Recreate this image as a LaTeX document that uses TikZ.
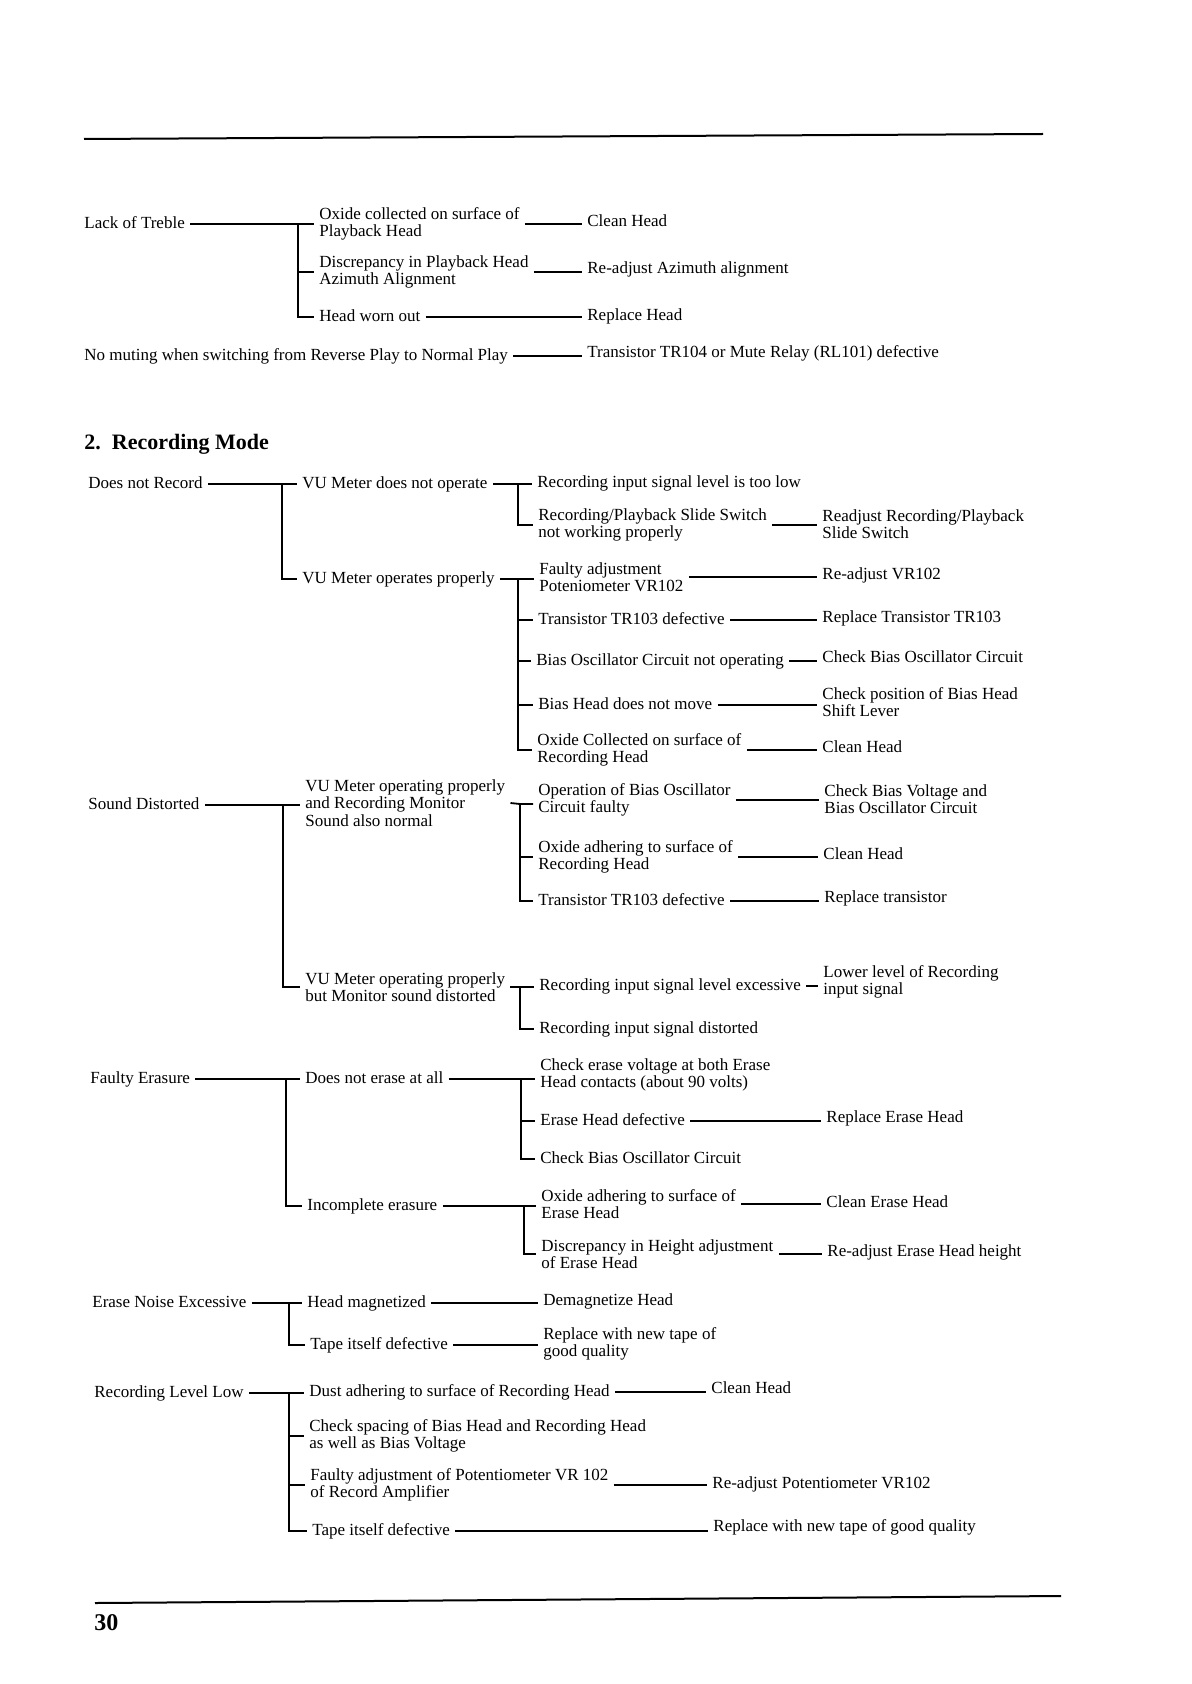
\documentclass[tikz,border=0pt]{standalone}
\usepackage{fontspec}
\setmainfont{Liberation Serif}
\usepackage{tikz}

\begin{document}
\begin{tikzpicture}[x=0.5pt,y=-0.5pt]
	\tikzset{
		txt/.style={anchor=west,inner xsep=2.5pt,inner ysep=1pt,
			font=\fontsize{8.5}{8.6}\selectfont,text height=5.8pt,text depth=1.7pt},
		blk/.style={anchor=west,inner xsep=2.5pt,inner ysep=1pt,
			font=\fontsize{8.5}{8.6}\selectfont,align=left},
		wire/.style={line width=0.9pt}}
	\useasboundingbox (0,-3) rectangle (1191,1681);
	\draw[line width=1pt](84,136)--(1043,131);
	% Lack of Treble
	\node[txt](lt) at (79,221){Lack of Treble};
	\coordinate(j1) at (298,221);
	\node[blk](lt1) at (314,221){Oxide collected on surface of\\Playback Head};
	\node[blk](lt2) at (314,269){Discrepancy in Playback Head\\Azimuth Alignment};
	\node[txt](lt3) at (314,314){Head worn out};
	\node[txt](lt1r) at (582,219){Clean Head};
	\node[txt](lt2r) at (582,266){Re-adjust Azimuth alignment};
	\node[txt](lt3r) at (582,313){Replace Head};
	\draw[wire](lt.east)--(j1)--(j1 -| lt1.west);
	\draw[wire](j1)|-(lt2.west);
	\draw[wire](j1)|-(lt3.west);
	\draw[wire](lt1.east)--(lt1.east -| lt1r.west);
	\draw[wire](lt2.east)--(lt2.east -| lt2r.west);
	\draw[wire](lt3.east)--(lt3.east -| lt3r.west);
	\node[txt](nm) at (79,353){No muting when switching from Reverse Play to Normal Play};
	\node[txt](nmr) at (582,350){Transistor TR104 or Mute Relay (RL101) defective};
	\draw[wire](nm.east)--(nm.east -| nmr.west);
	% 2. Recording Mode
	\node[anchor=west,inner sep=0pt,font=\fontsize{11}{12}\selectfont\bfseries](hd) at (84,441){2.\enspace Recording Mode};
	% Does not Record
	\node[txt](dr) at (83,481){Does not Record};
	\coordinate(j2) at (282,481);
	\node[txt](dr1) at (297,481){VU Meter does not operate};
	\node[txt](dr2) at (297,576){VU Meter operates properly};
	\draw[wire](dr.east)--(j2)--(j2 -| dr1.west);
	\draw[wire](j2)|-(dr2.west);
	\coordinate(j3) at (518,481);
	\node[txt](dr1a) at (532,480){Recording input signal level is too low};
	\node[blk](dr1b) at (533,522){Recording/Playback Slide Switch\\not working properly};
	\node[blk](dr1br) at (817,521){Readjust Recording/Playback\\Slide Switch};
	\draw[wire](dr1.east)--(j3)--(j3 -| dr1a.west);
	\draw[wire](j3)|-(dr1b.west);
	\draw[wire](dr1b.east)--(dr1b.east -| dr1br.west);
	\coordinate(j4) at (518,576);
	\node[blk](dr2a) at (534,574){Faulty adjustment\\Poteniometer VR102};
	\node[txt](dr2b) at (533,617){Transistor TR103 defective};
	\node[txt](dr2c) at (531,658){Bias Oscillator Circuit not operating};
	\node[txt](dr2d) at (533,702){Bias Head does not move};
	\node[blk](dr2e) at (532,747){Oxide Collected on surface of\\Recording Head};
	\node[txt](dr2ar) at (817,572){Re-adjust VR102};
	\node[txt](dr2br) at (817,615){Replace Transistor TR103};
	\node[txt](dr2cr) at (817,655){Check Bias Oscillator Circuit};
	\node[blk](dr2dr) at (817,699){Check position of Bias Head\\Shift Lever};
	\node[txt](dr2er) at (817,745){Clean Head};
	\draw[wire](dr2.east)--(j4)--(j4 -| dr2a.west);
	\draw[wire](j4)|-(dr2b.west);
	\draw[wire](j4)|-(dr2c.west);
	\draw[wire](j4)|-(dr2d.west);
	\draw[wire](j4)|-(dr2e.west);
	\draw[wire](dr2a.east)--(dr2a.east -| dr2ar.west);
	\draw[wire](dr2b.east)--(dr2b.east -| dr2br.west);
	\draw[wire](dr2c.east)--(dr2c.east -| dr2cr.west);
	\draw[wire](dr2d.east)--(dr2d.east -| dr2dr.west);
	\draw[wire](dr2e.east)--(dr2e.east -| dr2er.west);
	% Sound Distorted
	\node[txt](sd) at (83,802){Sound Distorted};
	\coordinate(j5) at (283,802);
	\node[blk](sd1) at (300,800){VU Meter operating properly\\and Recording Monitor\\Sound also normal};
	\node[blk](sd2) at (300,984){VU Meter operating properly\\but Monitor sound distorted};
	\draw[wire](sd.east)--(j5)--(j5 -| sd1.west);
	\draw[wire](j5)|-(sd2.west);
	\coordinate(j6) at (520,801);
	\node[blk](sd1a) at (533,797){Operation of Bias Oscillator\\Circuit faulty};
	\node[blk](sd1b) at (533,854){Oxide adhering to surface of\\Recording Head};
	\node[txt](sd1c) at (533,898){Transistor TR103 defective};
	\node[blk](sd1ar) at (819,796){Check Bias Voltage and\\Bias Oscillator Circuit};
	\node[txt](sd1br) at (818,852){Clean Head};
	\node[txt](sd1cr) at (819,895){Replace transistor};
	\draw[wire](sd1.east)--(j6)--(j6 -| sd1a.west);
	\draw[wire](j6)|-(sd1b.west);
	\draw[wire](j6)|-(sd1c.west);
	\draw[wire](sd1a.east)--(sd1a.east -| sd1ar.west);
	\draw[wire](sd1b.east)--(sd1b.east -| sd1br.west);
	\draw[wire](sd1c.east)--(sd1c.east -| sd1cr.west);
	\coordinate(j7) at (520,984);
	\node[txt](sd2a) at (534,983){Recording input signal level excessive};
	\node[txt](sd2b) at (534,1026){Recording input signal distorted};
	\node[blk](sd2ar) at (818,979){Lower level of Recording\\input signal};
	\draw[wire](sd2.east)--(j7)--(j7 -| sd2a.west);
	\draw[wire](j7)|-(sd2b.west);
	\draw[wire](sd2a.east)--(sd2a.east -| sd2ar.west);
	% Faulty Erasure
	\node[txt](fe) at (85,1076){Faulty Erasure};
	\coordinate(j8) at (286,1076);
	\node[txt](fe1) at (300,1076){Does not erase at all};
	\node[txt](fe2) at (302,1203){Incomplete erasure};
	\draw[wire](fe.east)--(j8)--(j8 -| fe1.west);
	\draw[wire](j8)|-(fe2.west);
	\coordinate(j9) at (521,1076);
	\node[blk](fe1a) at (535,1072){Check erase voltage at both Erase\\Head contacts (about 90 volts)};
	\node[txt](fe1b) at (535,1118){Erase Head defective};
	\node[txt](fe1c) at (535,1156){Check Bias Oscillator Circuit};
	\node[txt](fe1br) at (821,1115){Replace Erase Head};
	\draw[wire](fe1.east)--(j9)--(j9 -| fe1a.west);
	\draw[wire](j9)|-(fe1b.west);
	\draw[wire](j9)|-(fe1c.west);
	\draw[wire](fe1b.east)--(fe1b.east -| fe1br.west);
	\coordinate(j10) at (524,1203);
	\node[blk](fe2a) at (536,1201){Oxide adhering to surface of\\Erase Head};
	\node[blk](fe2b) at (536,1251){Discrepancy in Height adjustment\\of Erase Head};
	\node[txt](fe2ar) at (821,1200){Clean Erase Head};
	\node[txt](fe2br) at (822,1249){Re-adjust Erase Head height};
	\draw[wire](fe2.east)--(j10)--(j10 -| fe2a.west);
	\draw[wire](j10)|-(fe2b.west);
	\draw[wire](fe2a.east)--(fe2a.east -| fe2ar.west);
	\draw[wire](fe2b.east)--(fe2b.east -| fe2br.west);
	% Erase Noise Excessive
	\node[txt](en) at (87,1300){Erase Noise Excessive};
	\coordinate(j11) at (289,1300);
	\node[txt](en1) at (302,1300){Head magnetized};
	\node[txt](en2) at (305,1342){Tape itself defective};
	\node[txt](en1r) at (538,1298){Demagnetize Head};
	\node[blk](en2r) at (538,1341){Replace with new tape of\\good quality};
	\draw[wire](en.east)--(j11)--(j11 -| en1.west);
	\draw[wire](j11)|-(en2.west);
	\draw[wire](en1.east)--(en1.east -| en1r.west);
	\draw[wire](en2.east)--(en2.east -| en2r.west);
	% Recording Level Low
	\node[txt](rl) at (89,1390){Recording Level Low};
	\coordinate(j12) at (289,1390);
	\node[txt](rl1) at (304,1389){Dust adhering to surface of Recording Head};
	\node[blk](rl2) at (304,1433){Check spacing of Bias Head and Recording Head\\as well as Bias Voltage};
	\node[blk](rl3) at (305,1482){Faulty adjustment of Potentiometer VR 102\\of Record Amplifier};
	\node[txt](rl4) at (307,1528){Tape itself defective};
	\node[txt](rl1r) at (706,1386){Clean Head};
	\node[txt](rl3r) at (707,1481){Re-adjust Potentiometer VR102};
	\node[txt](rl4r) at (708,1524){Replace with new tape of good quality};
	\draw[wire](rl.east)--(j12)--(j12 -| rl1.west);
	\draw[wire](j12)|-(rl2.west);
	\draw[wire](j12)|-(rl3.west);
	\draw[wire](j12)|-(rl4.west);
	\draw[wire](rl1.east)--(rl1.east -| rl1r.west);
	\draw[wire](rl3.east)--(rl3.east -| rl3r.west);
	\draw[wire](rl4.east)--(rl4.east -| rl4r.west);
	\draw[line width=1pt](95,1600)--(1061,1593);
	\node[anchor=west,inner sep=0pt,font=\fontsize{12}{13}\selectfont\bfseries](pg) at (94,1620){30};
\end{tikzpicture}
\end{document}
